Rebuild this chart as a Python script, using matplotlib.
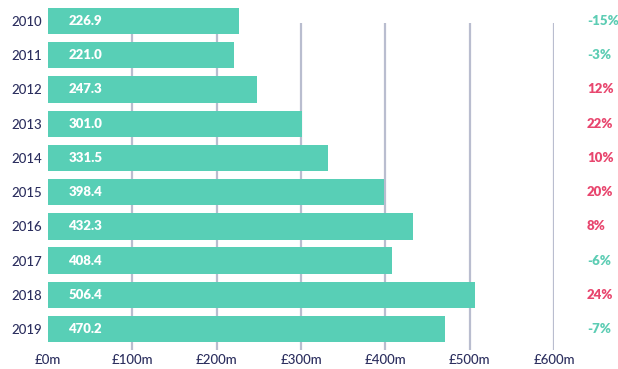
import matplotlib
matplotlib.use("Agg")
import matplotlib.pyplot as plt

years = ["2010", "2011", "2012", "2013", "2014", "2015", "2016", "2017", "2018", "2019"]
values = [226.9, 221.0, 247.3, 301.0, 331.5, 398.4, 432.3, 408.4, 506.4, 470.2]
changes = ["-15%", "-3%", "12%", "22%", "10%", "20%", "8%", "-6%", "24%", "-7%"]
xticks = [0, 100, 200, 300, 400, 500, 600]
xticklabels = ["£0m", "£100m", "£200m", "£300m", "£400m", "£500m", "£600m"]

bar_color = "#58cfb6"
neg_color = "#5dcdb4"
pos_color = "#e8466e"
navy = "#2b2e5e"
grid_color = "#b9bdcf"

plt.rcParams['font.family'] = ['Lato', 'DejaVu Sans']

fig = plt.figure(figsize=(6.18, 3.69), dpi=100)
W, H = 618, 369
left, right, top, bottom = 48, 554, 4, 350
ax = fig.add_axes([left / W, 1 - bottom / H, (right - left) / W, (bottom - top) / H])

pos = list(range(len(years)))
ax.set_xlim(0, 600)
ax.set_ylim(9.61, -0.497)

ax.vlines(xticks[1:], 0.06, 9.61, colors=grid_color, linewidth=1.6, zorder=1)
ax.barh(pos, values, height=0.77, color=bar_color, zorder=2)

for p, v in zip(pos, values):
    ax.text(24, p, f"{v:.1f}", color="white", fontweight="heavy", fontsize=9.5,
            va="center", ha="left", zorder=3)
for p, c in zip(pos, changes):
    col = neg_color if c.startswith("-") else pos_color
    ax.text(639, p, c, color=col, fontweight="heavy", fontsize=9.5,
            va="center", ha="left", clip_on=False)

ax.set_yticks(pos)
ax.set_yticklabels(years, fontsize=9.5, color=navy, fontweight="medium")
ax.set_xticks(xticks)
ax.set_xticklabels(xticklabels, fontsize=9.5, color=navy, fontweight="medium")
ax.tick_params(axis="both", length=0, pad=4)
ax.tick_params(axis="x", pad=3)
for s in ax.spines.values():
    s.set_visible(False)

fig.savefig("out.png", dpi=100)
